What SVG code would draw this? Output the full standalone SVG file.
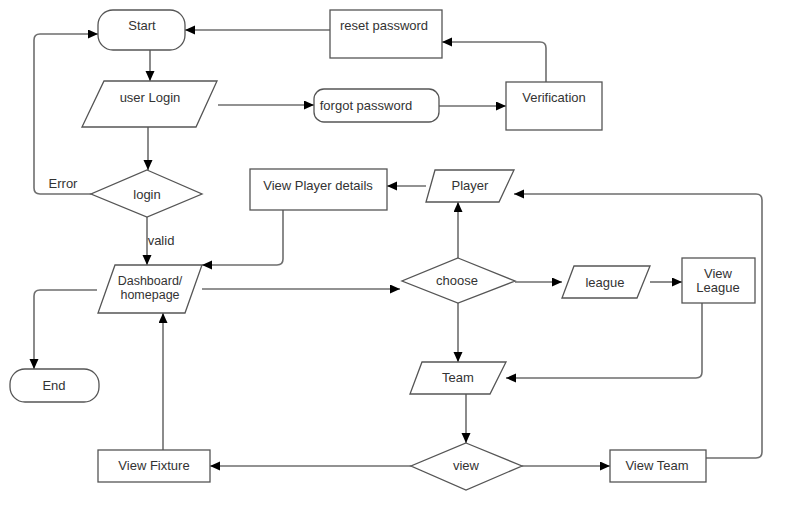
<svg xmlns="http://www.w3.org/2000/svg" width="803" height="530" viewBox="0 0 803 530">
<style>
.s{fill:#fff;stroke:#555;stroke-width:1.3}
.c{fill:none;stroke:#6e6e6e;stroke-width:1.6}
text{font-family:"Liberation Sans",Arial,sans-serif;font-size:13px;fill:#333;text-anchor:middle;dominant-baseline:central}
.sm{font-size:12.5px}
</style>
<defs>
<marker id="a" markerUnits="userSpaceOnUse" markerWidth="11" markerHeight="10" refX="10" refY="4.5" orient="auto">
<path d="M0,0 L10,4.5 L0,9 z" fill="#000"/>
</marker>
</defs>
<rect width="803" height="530" fill="#fff"/>
<g id="connectors">
<path class="c" d="M330,30 H185" marker-end="url(#a)"/>
<path class="c" d="M546,82 V48 Q546,42 540,42 H442" marker-end="url(#a)"/>
<path class="c" d="M439,106 H506" marker-end="url(#a)"/>
<path class="c" d="M218,105 H314" marker-end="url(#a)"/>
<path class="c" d="M150,50 V81" marker-end="url(#a)"/>
<path class="c" d="M148,127 V170" marker-end="url(#a)"/>
<path class="c" d="M91,194 H40 Q34,194 34,188 V40 Q34,34 40,34 H98" marker-end="url(#a)"/>
<path class="c" d="M147,217 V265" marker-end="url(#a)"/>
<path class="c" d="M283,210 V259 Q283,265 277,265 H202" marker-end="url(#a)"/>
<path class="c" d="M426,186 H387" marker-end="url(#a)"/>
<path class="c" d="M458,258 V202" marker-end="url(#a)"/>
<path class="c" d="M458,303 V362" marker-end="url(#a)"/>
<path class="c" d="M202,289 H400" marker-end="url(#a)"/>
<path class="c" d="M515,282 H562" marker-end="url(#a)"/>
<path class="c" d="M650,282 H682" marker-end="url(#a)"/>
<path class="c" d="M702,303 V372 Q702,378 696,378 H506" marker-end="url(#a)"/>
<path class="c" d="M466,394 V443" marker-end="url(#a)"/>
<path class="c" d="M522,466 H610" marker-end="url(#a)"/>
<path class="c" d="M706,458 H756 Q762,458 762,452 V200 Q762,194 756,194 H514" marker-end="url(#a)"/>
<path class="c" d="M411,466 H210" marker-end="url(#a)"/>
<path class="c" d="M163,450 V313" marker-end="url(#a)"/>
<path class="c" d="M97,290 H40 Q34,290 34,296 V369" marker-end="url(#a)"/>
<text x="63" y="183">Error</text>
<text x="161" y="240">valid</text>
</g>
<g id="start"><rect class="s" x="98" y="10" width="87" height="40" rx="15"/><text x="142" y="25">Start</text></g>
<g id="reset"><rect class="s" x="330" y="10" width="112" height="48"/><text x="384" y="25">reset password</text></g>
<g id="verification"><rect class="s" x="506" y="82" width="96" height="48"/><text x="554" y="97">Verification</text></g>
<g id="forgot"><rect class="s" x="314" y="89" width="125" height="33" rx="10"/><text x="366" y="105">forgot password</text></g>
<g id="userlogin"><polygon class="s" points="104,81 217,81 196,127 82,127"/><text x="150" y="97">user Login</text></g>
<g id="login"><polygon class="s" points="147,170 202,194 147,217 91,194"/><text x="147" y="194">login</text></g>
<g id="dashboard"><polygon class="s" points="115,265 202,265 185,313 98,313"/><text class="sm" x="150" y="281">Dashboard/</text><text class="sm" x="150" y="295">homepage</text></g>
<g id="end"><rect class="s" x="10" y="369" width="89" height="33" rx="15"/><text x="54" y="385">End</text></g>
<g id="playerdetails"><rect class="s" x="250" y="169" width="137" height="41"/><text x="318" y="185">View Player details</text></g>
<g id="player"><polygon class="s" points="435,170 514,170 499,202 426,202"/><text x="470" y="185">Player</text></g>
<g id="choose"><polygon class="s" points="458,258 515,281 458,303 402,281"/><text x="457" y="280">choose</text></g>
<g id="league"><polygon class="s" points="574,266 650,266 637,298 562,298"/><text x="605" y="282">league</text></g>
<g id="viewleague"><rect class="s" x="682" y="258" width="73" height="45"/><text x="718" y="273">View</text><text x="718" y="287">League</text></g>
<g id="team"><polygon class="s" points="422,362 506,362 490,394 410,394"/><text x="458" y="377">Team</text></g>
<g id="view"><polygon class="s" points="466,443 522,466 466,490 411,466"/><text x="466" y="465">view</text></g>
<g id="viewteam"><rect class="s" x="610" y="450" width="96" height="32"/><text x="657" y="465">View Team</text></g>
<g id="viewfixture"><rect class="s" x="98" y="450" width="112" height="32"/><text x="154" y="465">View Fixture</text></g>
</svg>
